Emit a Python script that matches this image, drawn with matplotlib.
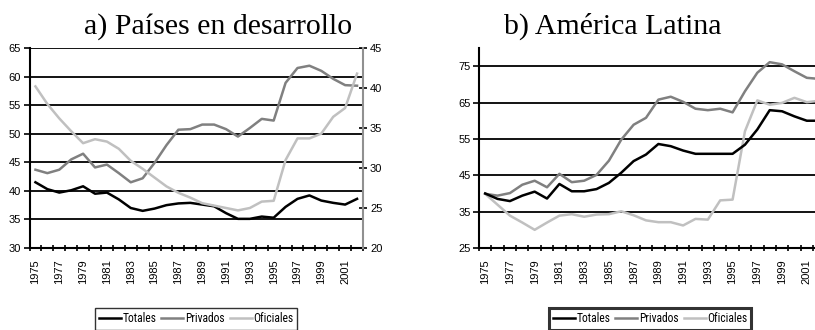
import matplotlib
matplotlib.use("Agg")
import matplotlib.pyplot as plt
from matplotlib.lines import Line2D
from matplotlib import font_manager
import numpy as np

years = list(range(1975, 2003))

# Panel a) Países en desarrollo
a_totales = [41.5, 40.3, 39.7, 40.1, 40.8, 39.5, 39.7, 38.5, 37.0, 36.5, 36.9, 37.5, 37.8, 37.9,
             37.6, 37.3, 36.1, 35.1, 35.1, 35.5, 35.3, 37.2, 38.6, 39.2, 38.3, 37.9, 37.6, 38.6]
a_privados = [43.7, 43.1, 43.7, 45.5, 46.5, 44.1, 44.6, 43.1, 41.5, 42.2, 44.9, 48.0, 50.7, 50.8,
              51.6, 51.6, 50.8, 49.5, 51.0, 52.6, 52.3, 58.9, 61.5, 61.9, 61.0, 59.6, 58.5, 58.4]
# Oficiales plotted on the right axis (20-45)
a_oficiales = [40.2, 38.0, 36.2, 34.6, 33.1, 33.6, 33.3, 32.4, 30.9, 29.9, 28.8, 27.7, 26.9, 26.3,
               25.6, 25.3, 25.0, 24.7, 25.0, 25.8, 25.9, 31.0, 33.7, 33.7, 34.3, 36.4, 37.5, 41.8]

# Panel b) América Latina
b_totales = [40.0, 38.5, 37.9, 39.4, 40.5, 38.6, 42.6, 40.6, 40.6, 41.2, 42.9, 45.7, 48.9, 50.7,
             53.6, 53.0, 51.8, 50.9, 50.9, 50.9, 50.9, 53.4, 57.6, 62.9, 62.6, 61.2, 60.0, 60.0]
b_privados = [39.9, 39.4, 40.1, 42.4, 43.5, 41.7, 45.4, 43.1, 43.5, 45.1, 49.0, 54.8, 58.9, 60.8,
              65.8, 66.6, 65.2, 63.3, 62.9, 63.3, 62.3, 68.1, 73.2, 76.1, 75.5, 73.6, 71.8, 71.5]
b_oficiales = [39.9, 36.9, 33.9, 32.0, 30.0, 32.0, 33.9, 34.3, 33.6, 34.2, 34.3, 35.1, 34.0, 32.6,
               32.1, 32.1, 31.2, 33.0, 32.8, 38.1, 38.3, 57.1, 65.6, 64.4, 64.9, 66.3, 65.1, 65.5]

series_names = ["Totales", "Privados", "Oficiales"]
colors = ["#000000", "#808080", "#c0c0c0"]

titles = ["a) Países en desarrollo", "b) América Latina"]

# pick a condensed sans font for the legend if one is installed
available = {f.name for f in font_manager.fontManager.ttflist}
narrow_name = None
narrow_stretch = "normal"
for cand in ["Liberation Sans Narrow", "Arial Narrow", "Roboto Condensed", "Open Sans Condensed",
             "Noto Sans Condensed", "DejaVu Sans Condensed"]:
    if cand in available:
        narrow_name = cand
        break
if narrow_name is None:
    narrow_name = "DejaVu Sans"
    for f in font_manager.fontManager.ttflist:
        fn = f.fname
        if "Condensed" in fn and not any(k in fn for k in ("Bold", "Oblique", "Italic")):
            narrow_name = f.name
            narrow_stretch = "condensed"
            break

sans = ["Liberation Sans", "DejaVu Sans"]
narrow = [narrow_name, "DejaVu Sans"]
serif = ["Liberation Serif", "DejaVu Serif"]
plt.rcParams["font.family"] = sans

W, H = 815, 330
fig = plt.figure(figsize=(W / 100, H / 100), dpi=100)

def fx(px):
    return px / W

def fy(py):
    return 1 - py / H

x = np.arange(len(years))
lw = 1.8
tick_fs = 8.0

def setup_xaxis(ax):
    ax.set_xlim(-0.5, len(years) - 0.5)
    ax.set_xticks(x[::2])
    ax.set_xticklabels([str(y) for y in years[::2]], rotation=90, fontsize=tick_fs)
    ax.set_xticks(np.arange(-0.5, len(years), 1.0), minor=True)
    ax.tick_params(axis="x", which="major", length=0, pad=8)
    ax.tick_params(axis="x", which="minor", length=5, width=1.2, direction="inout", color="black")

# ---------- Panel a ----------
axa = fig.add_axes([fx(29.5), fy(248), fx(333.5), 200 / H])
axa.set_ylim(30, 65)
axa.set_yticks([30, 35, 40, 45, 50, 55, 60, 65])
for v in [35, 40, 45, 50, 55, 60, 65]:
    axa.axhline(v, color="black", lw=1.3, zorder=1)
axa.plot(x, a_totales, color=colors[0], lw=lw, zorder=4)
axa.plot(x, a_privados, color=colors[1], lw=lw, zorder=3)
setup_xaxis(axa)
axa.tick_params(axis="y", length=4, width=1.2, direction="out", labelsize=tick_fs, pad=2)
for s in ["top", "right"]:
    axa.spines[s].set_visible(False)
axa.spines["left"].set_linewidth(1.5)
axa.spines["bottom"].set_linewidth(1.5)

axa2 = axa.twinx()
axa2.set_ylim(20, 45)
axa2.set_yticks([20, 25, 30, 35, 40, 45])
axa2.plot(x, a_oficiales, color=colors[2], lw=lw, zorder=2)
axa2.tick_params(axis="y", length=6, width=1.2, direction="inout", labelsize=tick_fs, pad=2,
                 color="black")
for s in ["top", "left", "bottom"]:
    axa2.spines[s].set_visible(False)
axa2.spines["right"].set_color("#909090")
axa2.spines["right"].set_linewidth(1.5)

fig.text(fx(218), fy(34), titles[0], family=serif, fontsize=21.5, ha="center", va="baseline")

# ---------- Panel b ----------
axb = fig.add_axes([fx(479), fy(248), fx(28 * 12.37), 200 / H])
axb.set_ylim(25, 80)
axb.set_yticks([25, 35, 45, 55, 65, 75])
for v in [35, 45, 55, 65, 75]:
    axb.axhline(v, color="black", lw=1.3, zorder=1)
axb.plot(x, b_totales, color=colors[0], lw=lw, zorder=4)
axb.plot(x, b_privados, color=colors[1], lw=lw, zorder=3)
axb.plot(x, b_oficiales, color=colors[2], lw=lw, zorder=2)
setup_xaxis(axb)
axb.tick_params(axis="y", length=4, width=1.2, direction="out", labelsize=tick_fs, pad=2)
for s in ["top", "right"]:
    axb.spines[s].set_visible(False)
axb.spines["left"].set_linewidth(1.5)
axb.spines["bottom"].set_linewidth(1.5)

fig.text(fx(613), fy(34), titles[1], family=serif, fontsize=21.5, ha="center", va="baseline")

# ---------- Legends ----------
handles = [Line2D([], [], color=c, lw=lw) for c in colors]
for cx, blw in [(196, 1.0), (650, 2.2)]:
    leg = fig.legend(handles, series_names, loc="center", bbox_to_anchor=(fx(cx), fy(319)),
                     ncol=3, frameon=True, fancybox=False,
                     prop={"family": narrow, "size": 8.3, "stretch": narrow_stretch},
                     handlelength=1.9, handletextpad=0.15, columnspacing=0.45,
                     borderpad=0.35, borderaxespad=0)
    leg.get_frame().set_edgecolor("black")
    leg.get_frame().set_linewidth(blw)

fig.savefig("out.png", dpi=100)
